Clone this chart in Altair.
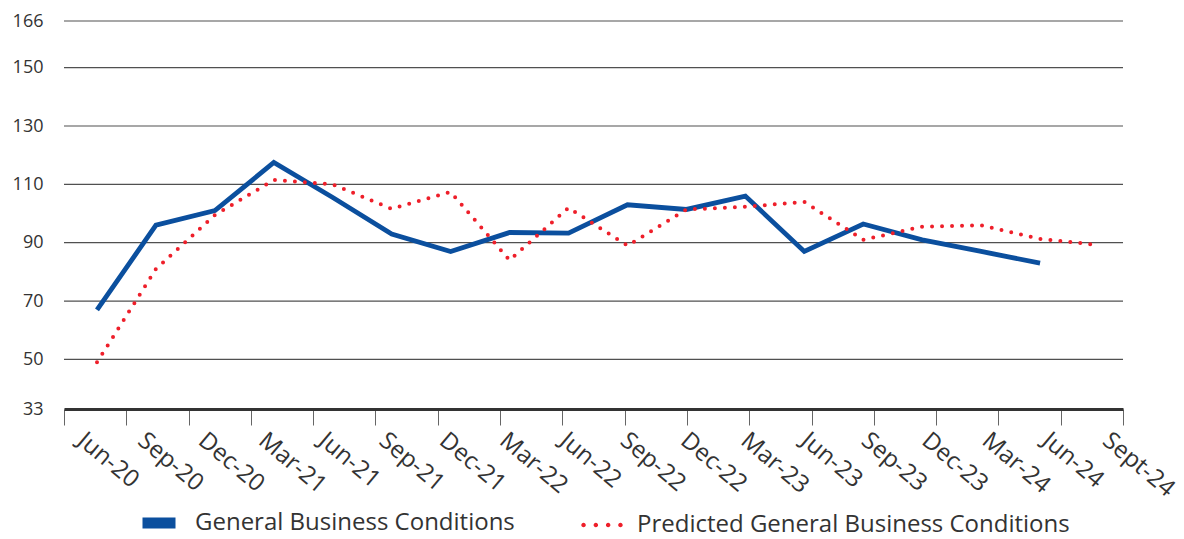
import altair as alt
import pandas as pd

# Quarterly survey readings
months = ["Jun-20", "Sep-20", "Dec-20", "Mar-21", "Jun-21", "Sep-21", "Dec-21",
          "Mar-22", "Jun-22", "Sep-22", "Dec-22", "Mar-23", "Jun-23", "Sep-23",
          "Dec-23", "Mar-24", "Jun-24", "Sept-24"]
general = [67, 96, 101, 117.5, 105.5, 93, 87, 93.5, 93.3, 103, 101.4, 106,
           87, 96.4, 91, 87, 83]
predicted = [49, 81, 99.5, 111.5, 110, 101.6, 107.4, 84, 102, 89, 101.4, 102.3,
             104, 91, 95.5, 96, 91.3, 89.2]
y_ticks = [33, 50, 70, 90, 110, 130, 150, 166]

GEN = "General Business Conditions"
PRED = "Predicted General Business Conditions"
BLUE = "#0b4f9e"
RED = "#ee1f2a"
TEXT = "#333333"
FONT = "Open Sans"

gen_df = pd.DataFrame({"month": months[:len(general)], "value": general, "g": GEN})
pred_df = pd.DataFrame({"month": months, "value": predicted, "p": PRED})
axis_df = pd.DataFrame({"month": months})
grid_df = pd.DataFrame({"value": y_ticks[1:]})

y_scale = alt.Scale(domain=[33, 166], nice=False, zero=False)
y_enc = alt.Y(
    "value:Q",
    scale=y_scale,
    axis=alt.Axis(values=y_ticks, title=None, domain=False, ticks=False,
                  labelPadding=21, grid=False,
                  labelFontSize=18, labelColor=TEXT, labelFont=FONT),
)
x_data = alt.X("month:O", sort=months,
               scale=alt.Scale(type="point", range=[33, 1035], padding=0),
               axis=None)


def dot_path(n=4, r=0.11):
    parts = []
    for i in range(n):
        cx = -0.9 + i * (1.8 / (n - 1))
        parts.append(f"M{cx - r:.3f},0A{r},{r} 0 1,1 {cx + r:.3f},0A{r},{r} 0 1,1 {cx - r:.3f},0Z")
    return "".join(parts)


# horizontal gridlines across the full plot width
grid = alt.Chart(grid_df).mark_rule(color="#505050", strokeWidth=1.2).encode(y=y_enc)

blue = alt.Chart(gen_df).mark_line(strokeWidth=4.8, strokeCap="butt").encode(
    x=x_data,
    y=y_enc,
    color=alt.Color("g:N", scale=alt.Scale(domain=[GEN], range=[BLUE]),
                    legend=alt.Legend(title=None, orient="none", legendX=73, legendY=480,
                                      symbolType="stroke", symbolSize=1089,
                                      symbolStrokeWidth=11, labelFontSize=24,
                                      labelFont=FONT, labelColor=TEXT,
                                      labelLimit=600, labelOffset=14, padding=0)),
)

red = alt.Chart(pred_df).mark_line(color=RED, strokeWidth=4, strokeCap="round").encode(
    x=x_data,
    y=y_enc,
    strokeDash=alt.StrokeDash("p:N", scale=alt.Scale(domain=[PRED], range=[[0, 10]]),
                              legend=alt.Legend(title=None, orient="none", legendX=517,
                                                legendY=483, symbolType=dot_path(),
                                                symbolSize=1681, symbolStrokeColor=RED,
                                                symbolFillColor=RED, symbolStrokeWidth=1,
                                                symbolDash=[1, 0],
                                                labelFontSize=24, labelFont=FONT,
                                                labelColor=TEXT, labelLimit=600,
                                                labelOffset=14, padding=0)),
)

# category boundaries: baseline and tick marks
tick_layer = alt.Chart(axis_df).mark_point(opacity=0).encode(
    x=alt.X("month:O", sort=months, scale=alt.Scale(type="point", padding=0),
            axis=alt.Axis(orient="bottom", title=None, domainColor="#333333",
                          domainWidth=3, tickColor="#666666", tickSize=16,
                          tickWidth=1, labels=False, grid=False)),
)

# slanted quarter labels
label_layer = alt.Chart(axis_df).mark_point(opacity=0).encode(
    x=alt.X("month:O", sort=months,
            scale=alt.Scale(type="point", range=[24, 1049], padding=0),
            axis=alt.Axis(orient="bottom", title=None, domain=False, ticks=False,
                          labelAngle=40, labelAlign="left", labelBaseline="top",
                          labelPadding=19, labelFontSize=24, labelFont=FONT,
                          labelColor=TEXT, labelOverlap=False, grid=False)),
)

chart = alt.layer(alt.layer(grid, blue, red), tick_layer, label_layer).resolve_scale(
    x="independent"
).properties(
    width=1059, height=388,
    background="white",
    autosize=alt.AutoSizeParams(type="none"),
    padding={"left": 64, "top": 21, "right": 61, "bottom": 130},
).configure_view(stroke=None).configure_axisY(domain=False)

chart.save("out.html", embed_options={"renderer": "svg", "actions": False})
